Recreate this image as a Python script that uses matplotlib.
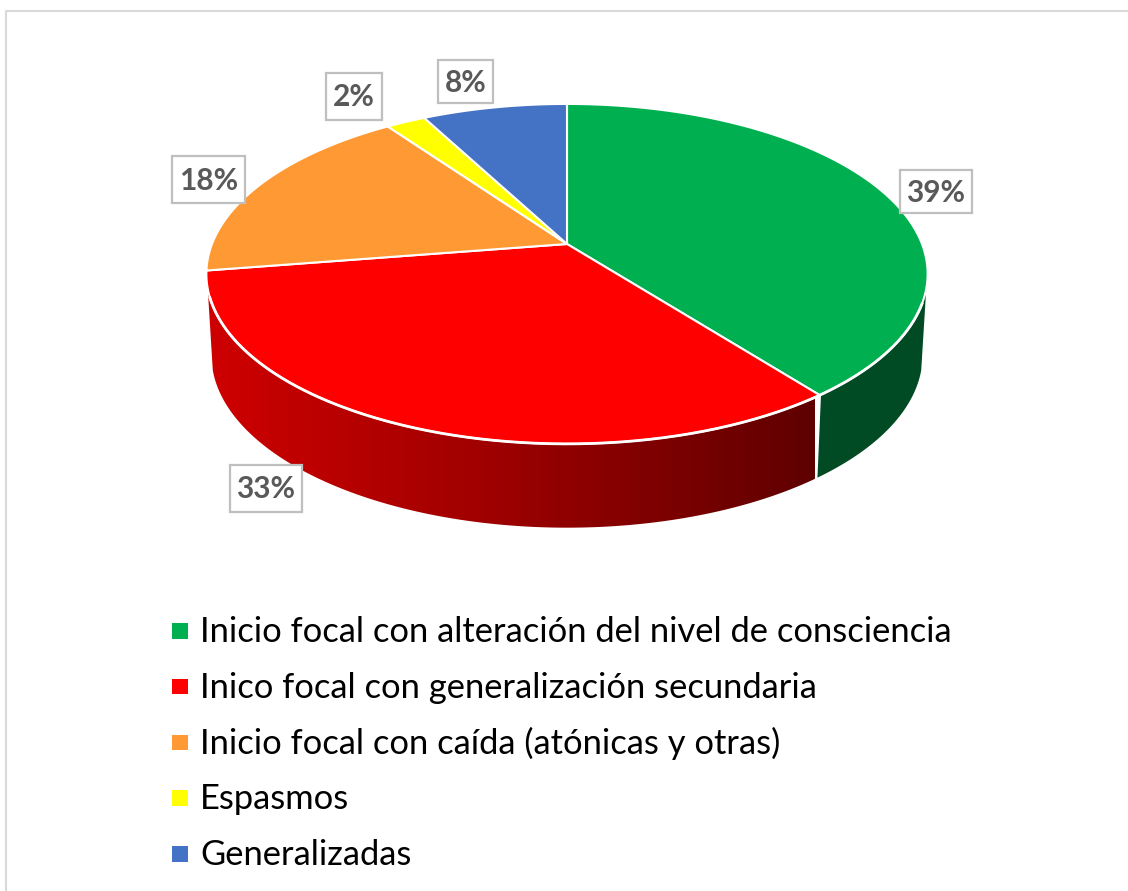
import numpy as np
import matplotlib
matplotlib.use("Agg")
import matplotlib.pyplot as plt
from matplotlib.colors import LinearSegmentedColormap
from matplotlib.patches import Polygon, Rectangle

categories = ["Inicio focal con alteración del nivel de consciencia",
              "Inico focal con generalización secundaria",
              "Inicio focal con caída (atónicas y otras)",
              "Espasmos",
              "Generalizadas"]
values = [39.5, 33, 17.7, 2.1, 7.7]
pct_labels = ["39%", "33%", "18%", "2%", "8%"]
colors = ["#00B050", "#FF0000", "#FF9933", "#FFFF00", "#4472C4"]

# label boxes: left, top, right, bottom in pixels
boxes = [(900, 170, 972, 213), (230, 465, 302, 512), (172, 156, 245, 203),
         (326, 73, 382, 120), (438, 60, 493, 103)]

plt.rcParams['font.family'] = ['Lato', 'DejaVu Sans']

fig = plt.figure(figsize=(11.28, 8.91), dpi=100)
ax = fig.add_axes([0, 0, 1, 1])
ax.set_xlim(0, 1128)
ax.set_ylim(891, 0)
ax.axis("off")

K = 0.176


def project(theta, a, b, cy):
    # theta clockwise from the top, fake perspective on the disc
    u, v = np.sin(theta), np.cos(theta)
    w = 1 + K * v
    return 567 + a * u / w, cy - b * v / w


def top(theta):
    return project(theta, 355, 164.7, 244)


def bottom(theta):
    return project(theta, 350, 167, 325)


edges = np.cumsum([0] + values) / sum(values) * 2 * np.pi

# frame
ax.plot([6, 6, 1128], [891, 11, 11], color="#D9D9D9", lw=1.5)

# side wall of the green and red slices, only the part facing us
th = np.linspace(np.radians(105), edges[1], 200)
x1, y1 = top(th)
x2, y2 = bottom(th)
ax.add_patch(Polygon(np.r_[np.c_[x1, y1], np.c_[x2, y2][::-1]], fc="#004B23", ec="none"))

th = np.linspace(edges[1], np.radians(255), 300)
x1, y1 = top(th)
x2, y2 = bottom(th)
red_wall = Polygon(np.r_[np.c_[x1, y1], np.c_[x2, y2][::-1]], fc="none", ec="none")
ax.add_patch(red_wall)
cmap = LinearSegmentedColormap.from_list("wall", ["#CF0000", "#9B0000", "#5F0000"])
im = ax.imshow(np.linspace(0, 1, 256)[None, :], cmap=cmap, extent=(205, 815, 540, 260),
               aspect="auto", zorder=1)
im.set_clip_path(red_wall)
ax.set_xlim(0, 1128)
ax.set_ylim(891, 0)

# seam between the two walls
sx, sy = top(edges[1])
bx, by = bottom(edges[1])
ax.plot([sx, bx], [sy, by], color="white", lw=1.8, zorder=2)

# top face
for i in range(len(values)):
    th = np.linspace(edges[i], edges[i + 1], 200)
    x, y = top(th)
    pts = np.r_[[[567, 244]], np.c_[x, y]]
    ax.add_patch(Polygon(pts, closed=True, fc=colors[i], ec="white", lw=1.5, zorder=3))

# heavier white rim along the front
th = np.linspace(np.radians(110), np.radians(252), 300)
x, y = top(th)
ax.plot(x, y, color="white", lw=2, zorder=3.5)

# data labels
for lab, (l, t, r, b) in zip(pct_labels, boxes):
    ax.add_patch(Rectangle((l, t), r - l, b - t, fc="white", ec="#BFBFBF", lw=1.6, zorder=4))
    ax.text((l + r) / 2, (t + b) / 2 + 1, lab, ha="center", va="center", fontsize=21.5,
            fontweight="bold", color="#595959", zorder=5)

# legend
for i, name in enumerate(categories):
    ybase = 642 + i * 55.75
    ax.add_patch(Rectangle((172, ybase - 19), 15.5, 15.5, fc=colors[i], ec="none"))
    ax.text(200, ybase, name, ha="left", va="baseline", fontsize=24.8, color="black")

fig.savefig("out.png", dpi=100)
